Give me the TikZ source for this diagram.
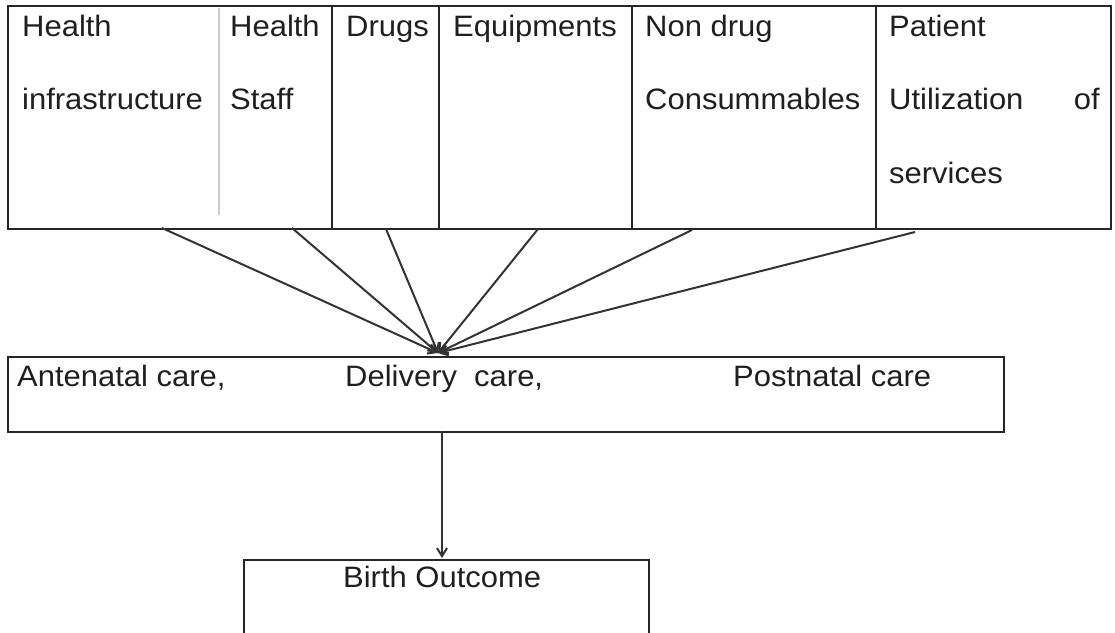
\documentclass[tikz,border=0pt]{standalone}
\usepackage{fontspec}
\setmainfont{Liberation Sans}[FakeStretch=1.05]
\usetikzlibrary{arrows.meta}
\begin{document}
\begin{tikzpicture}[x=1pt,y=-1pt,
  lbl/.style={anchor=base west, inner sep=0pt, font=\fontsize{29.5}{36}\selectfont, text=black!88},
  lble/.style={lbl, anchor=base east},
  frame/.style={draw=black!85, line width=1.6pt},
  faint/.style={draw=black!20, line width=1.4pt},
  link/.style={draw=black!80, line width=2pt, -{Straight Barb[length=8pt,width=10pt,line width=2pt]}},
  boxnode/.style={frame, anchor=north west, inner sep=0pt},
]
\path[clip] (0,0) rectangle (1115,632);
\fill[white] (0,0) rectangle (1115,632);

% ---- top table ----
\node[boxnode, minimum width=1103pt, minimum height=223pt] (table) at (7,5) {};
\draw[faint] (219,8) -- (219,215);
\draw[frame] (332,5) -- (332,228);
\draw[frame] (439,5) -- (439,228);
\draw[frame] (632,5) -- (632,228);
\draw[frame] (876,5) -- (876,228);

\node[lbl] (t1a) at (22,36) {Health};
\node[lbl] (t1b) at (22,109) {infrastructure};
\node[lbl] (t2a) at (230,36) {Health};
\node[lbl] (t2b) at (230,109) {Staff};
\node[lbl] (t3a) at (346,36) {Drugs};
\node[lbl] (t4a) at (453,36) {Equipments};
\node[lbl] (t5a) at (645,36) {Non drug};
\node[lbl] (t5b) at (645,109) {Consummables};
\node[lbl] (t6a) at (889,36) {Patient};
\node[lbl] (t6b) at (889,109) {Utilization};
\node[lble] (t6c) at (1100,109) {of};
\node[lbl] (t6d) at (889,183) {services};

% connector ends
\coordinate (s1) at (162,228);
\coordinate (s2) at (292,228);
\coordinate (s3) at (386,229);
\coordinate (s4) at (538,229);
\coordinate (s5) at (692,230);
\coordinate (s6) at (915,232);
\coordinate (hub) at (438,353);

\foreach \s in {s1,s2,s3,s4,s5,s6}
  \draw[link] (\s) -- (hub);

% ---- middle box ----
\node[boxnode, minimum width=996pt, minimum height=75pt] (care) at (7,356) {};
\node[lbl] (m1) at (17,386) {Antenatal care,};
\node[lbl] (m2) at (345,386) {Delivery\ \ care,};
\node[lbl] (m3) at (733,386) {Postnatal care};

% ---- bottom box ----
\node[boxnode, minimum width=405pt, minimum height=110pt] (birth) at (243,559) {};
\node[lbl] (b1) at (343,587) {Birth Outcome};

\coordinate (down1) at (442,431);
\coordinate (down2) at (442,558);
\draw[link] (down1) -- (down2);
\end{tikzpicture}
\end{document}
